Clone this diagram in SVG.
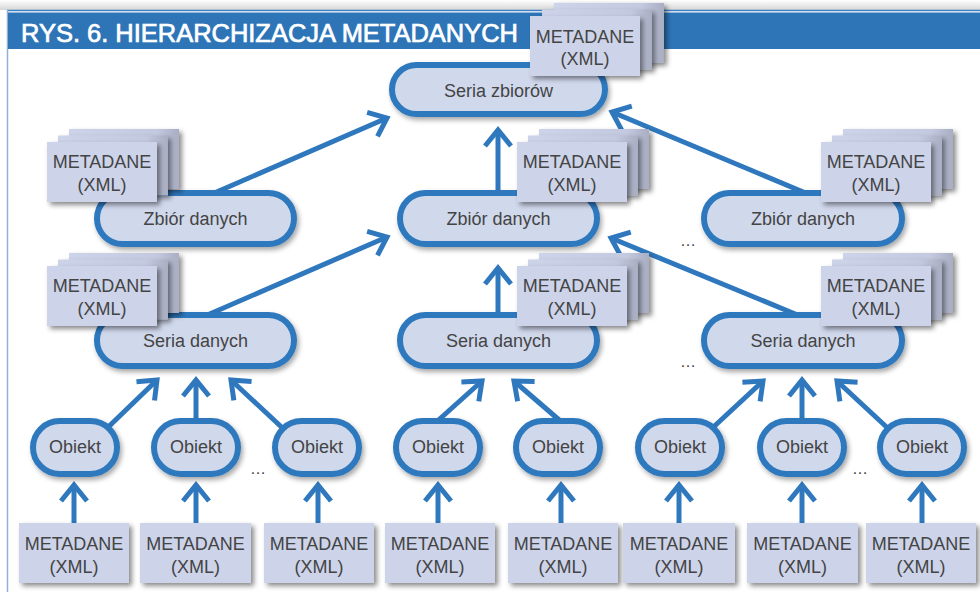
<svg xmlns="http://www.w3.org/2000/svg" width="980" height="592" viewBox="0 0 980 592">
<defs>
<style>
.t{font-family:"Liberation Sans",Arial,sans-serif;font-size:18px;fill:#444444;text-anchor:middle}
.pill{fill:#d0d8ec;stroke:#2f78bd;stroke-width:6;filter:url(#sh)}
.box{fill:#cdd4ea;filter:url(#sh2)}
.back{fill:url(#bg)}
.con{stroke:#2f78bd;stroke-width:5;fill:none;marker-end:url(#ah)}
.dots{font-family:"Liberation Sans",Arial,sans-serif;font-size:16px;fill:#444;text-anchor:middle}
</style>
<linearGradient id="topg" x1="0" y1="0" x2="0" y2="1">
<stop offset="0" stop-color="#ffffff"/><stop offset="1" stop-color="#d6d6d6"/>
</linearGradient>
<linearGradient id="bg" x1="0" y1="0" x2="1" y2="0">
<stop offset="0" stop-color="#cdd4ea"/><stop offset="0.8" stop-color="#c3c9df"/><stop offset="1" stop-color="#a9aec3"/>
</linearGradient>
<filter id="sh" x="-20%" y="-20%" width="140%" height="150%">
<feDropShadow dx="2" dy="3" stdDeviation="2.5" flood-color="#000" flood-opacity="0.35"/>
</filter>
<filter id="sh2" x="-20%" y="-20%" width="140%" height="150%">
<feDropShadow dx="3" dy="3" stdDeviation="2.5" flood-color="#000" flood-opacity="0.45"/>
</filter>
<marker id="ah" markerUnits="userSpaceOnUse" orient="auto" overflow="visible" markerWidth="1" markerHeight="1" refX="0" refY="0">
<path d="M-16,-13 L0,0 L-16,13" fill="none" stroke="#2f78bd" stroke-width="5" stroke-linejoin="miter"/>
</marker>
</defs>

<rect x="0" y="0" width="980" height="592" fill="#ffffff"/>
<g id="header">
<rect x="0" y="0" width="980" height="10" fill="url(#topg)"/>
<line x1="7" y1="10.5" x2="980" y2="10.5" stroke="#3a7fc2" stroke-width="1.5"/>
<line x1="7.5" y1="10" x2="7.5" y2="592" stroke="#8fb0d8" stroke-width="1.5"/>
<rect x="8" y="12.5" width="972" height="36.5" fill="#2e75b8"/>
<text x="21" y="42" font-family="'Liberation Sans',Arial,sans-serif" font-size="25" fill="#ffffff" stroke="#ffffff" stroke-width="0.7" textLength="497" lengthAdjust="spacingAndGlyphs">RYS. 6. HIERARCHIZACJA METADANYCH</text>
</g>

<g id="connectors">
<line class="con" x1="74" y1="523" x2="74" y2="485"/>
<line class="con" x1="196" y1="523" x2="196" y2="485"/>
<line class="con" x1="318" y1="523" x2="318" y2="485"/>
<line class="con" x1="438" y1="523" x2="438" y2="485"/>
<line class="con" x1="561" y1="523" x2="561" y2="485"/>
<line class="con" x1="679" y1="523" x2="679" y2="485"/>
<line class="con" x1="802" y1="523" x2="802" y2="485"/>
<line class="con" x1="922" y1="523" x2="922" y2="485"/>

<line class="con" x1="100" y1="435" x2="157" y2="380"/>
<line class="con" x1="196" y1="420" x2="196" y2="380"/>
<line class="con" x1="290" y1="435" x2="231" y2="380"/>
<line class="con" x1="433" y1="425" x2="482" y2="381"/>
<line class="con" x1="565" y1="425" x2="514" y2="381"/>
<line class="con" x1="707" y1="433" x2="763" y2="381"/>
<line class="con" x1="802" y1="420" x2="802" y2="380"/>
<line class="con" x1="893" y1="433" x2="837" y2="381"/>

<line class="con" x1="205" y1="316" x2="387" y2="237"/>
<line class="con" x1="498" y1="316" x2="498" y2="268"/>
<line class="con" x1="800" y1="316" x2="611" y2="238"/>

<line class="con" x1="212" y1="194" x2="387" y2="118"/>
<line class="con" x1="498" y1="194" x2="498" y2="130"/>
<line class="con" x1="808" y1="194" x2="612" y2="112"/>
</g>

<g id="seria-zbiorow">
<rect class="pill" x="392" y="65" width="213" height="49" rx="24.5"/>
<text class="t" x="498.5" y="97">Seria zbiorów</text>
</g>
<g id="meta-top">
<rect class="box back" x="554" y="3" width="110" height="60"/>
<rect class="box back" x="542" y="9.5" width="110" height="60"/>
<rect class="box" x="530" y="16" width="110" height="60"/>
<text class="t" x="585" y="42.5">METADANE</text>
<text class="t" x="585" y="65">(XML)</text>
</g>

<g id="zbior-1">
<rect class="pill" x="97" y="193" width="197" height="51" rx="25.5"/>
<text class="t" x="195.5" y="225">Zbiór danych</text>
</g>
<g id="zbior-2">
<rect class="pill" x="400" y="193" width="197" height="51" rx="25.5"/>
<text class="t" x="498.5" y="225">Zbiór danych</text>
</g>
<g id="zbior-3">
<rect class="pill" x="704" y="193" width="198" height="51" rx="25.5"/>
<text class="t" x="803" y="225">Zbiór danych</text>
</g>

<g id="meta-z1">
<rect class="box back" x="69" y="129" width="110" height="60"/>
<rect class="box back" x="58" y="135.5" width="110" height="60"/>
<rect class="box" x="47" y="142" width="110" height="60"/>
<text class="t" x="102" y="168">METADANE</text>
<text class="t" x="102" y="191">(XML)</text>
</g>
<g id="meta-z2">
<rect class="box back" x="539" y="129" width="110" height="60"/>
<rect class="box back" x="528" y="135.5" width="110" height="60"/>
<rect class="box" x="517" y="142" width="110" height="60"/>
<text class="t" x="572" y="168">METADANE</text>
<text class="t" x="572" y="191">(XML)</text>
</g>
<g id="meta-z3">
<rect class="box back" x="843" y="129" width="110" height="60"/>
<rect class="box back" x="832" y="135.5" width="110" height="60"/>
<rect class="box" x="821" y="142" width="110" height="60"/>
<text class="t" x="876" y="168">METADANE</text>
<text class="t" x="876" y="191">(XML)</text>
</g>

<g id="seria-1">
<rect class="pill" x="97" y="315" width="197" height="51" rx="25.5"/>
<text class="t" x="195.5" y="347">Seria danych</text>
</g>
<g id="seria-2">
<rect class="pill" x="400" y="315" width="197" height="51" rx="25.5"/>
<text class="t" x="498.5" y="347">Seria danych</text>
</g>
<g id="seria-3">
<rect class="pill" x="704" y="315" width="198" height="51" rx="25.5"/>
<text class="t" x="803" y="347">Seria danych</text>
</g>

<g id="meta-s1">
<rect class="box back" x="69" y="253" width="110" height="60"/>
<rect class="box back" x="58" y="259.5" width="110" height="60"/>
<rect class="box" x="47" y="266" width="110" height="60"/>
<text class="t" x="102" y="292">METADANE</text>
<text class="t" x="102" y="315">(XML)</text>
</g>
<g id="meta-s2">
<rect class="box back" x="539" y="253" width="110" height="60"/>
<rect class="box back" x="528" y="259.5" width="110" height="60"/>
<rect class="box" x="517" y="266" width="110" height="60"/>
<text class="t" x="572" y="292">METADANE</text>
<text class="t" x="572" y="315">(XML)</text>
</g>
<g id="meta-s3">
<rect class="box back" x="843" y="253" width="110" height="60"/>
<rect class="box back" x="832" y="259.5" width="110" height="60"/>
<rect class="box" x="821" y="266" width="110" height="60"/>
<text class="t" x="876" y="292">METADANE</text>
<text class="t" x="876" y="315">(XML)</text>
</g>

<g id="obiekt-1"><rect class="pill" x="33" y="421" width="84" height="53" rx="26.5"/><text class="t" x="75" y="453">Obiekt</text></g>
<g id="obiekt-2"><rect class="pill" x="154" y="421" width="84" height="53" rx="26.5"/><text class="t" x="196" y="453">Obiekt</text></g>
<g id="obiekt-3"><rect class="pill" x="275" y="421" width="84" height="53" rx="26.5"/><text class="t" x="317" y="453">Obiekt</text></g>
<g id="obiekt-4"><rect class="pill" x="396" y="421" width="84" height="53" rx="26.5"/><text class="t" x="438" y="453">Obiekt</text></g>
<g id="obiekt-5"><rect class="pill" x="516" y="421" width="84" height="53" rx="26.5"/><text class="t" x="558" y="453">Obiekt</text></g>
<g id="obiekt-6"><rect class="pill" x="638" y="421" width="84" height="53" rx="26.5"/><text class="t" x="680" y="453">Obiekt</text></g>
<g id="obiekt-7"><rect class="pill" x="760" y="421" width="84" height="53" rx="26.5"/><text class="t" x="802" y="453">Obiekt</text></g>
<g id="obiekt-8"><rect class="pill" x="880" y="421" width="84" height="53" rx="26.5"/><text class="t" x="922" y="453">Obiekt</text></g>

<g id="meta-b1"><rect class="box" x="19" y="523" width="110" height="60"/><text class="t" x="74" y="550">METADANE</text><text class="t" x="74" y="573">(XML)</text></g>
<g id="meta-b2"><rect class="box" x="140" y="523" width="111" height="60"/><text class="t" x="195.5" y="550">METADANE</text><text class="t" x="195.5" y="573">(XML)</text></g>
<g id="meta-b3"><rect class="box" x="264" y="523" width="110" height="60"/><text class="t" x="319" y="550">METADANE</text><text class="t" x="319" y="573">(XML)</text></g>
<g id="meta-b4"><rect class="box" x="385" y="523" width="110" height="60"/><text class="t" x="440" y="550">METADANE</text><text class="t" x="440" y="573">(XML)</text></g>
<g id="meta-b5"><rect class="box" x="508" y="523" width="110" height="60"/><text class="t" x="563" y="550">METADANE</text><text class="t" x="563" y="573">(XML)</text></g>
<g id="meta-b6"><rect class="box" x="623" y="523" width="112" height="60"/><text class="t" x="679" y="550">METADANE</text><text class="t" x="679" y="573">(XML)</text></g>
<g id="meta-b7"><rect class="box" x="747" y="523" width="111" height="60"/><text class="t" x="802.5" y="550">METADANE</text><text class="t" x="802.5" y="573">(XML)</text></g>
<g id="meta-b8"><rect class="box" x="866" y="523" width="110" height="60"/><text class="t" x="921" y="550">METADANE</text><text class="t" x="921" y="573">(XML)</text></g>

<g id="ellipses">
<text class="dots" x="258" y="474">…</text>
<text class="dots" x="860" y="474">…</text>
<text class="dots" x="688" y="246">…</text>
<text class="dots" x="688" y="367">…</text>
</g>
</svg>
